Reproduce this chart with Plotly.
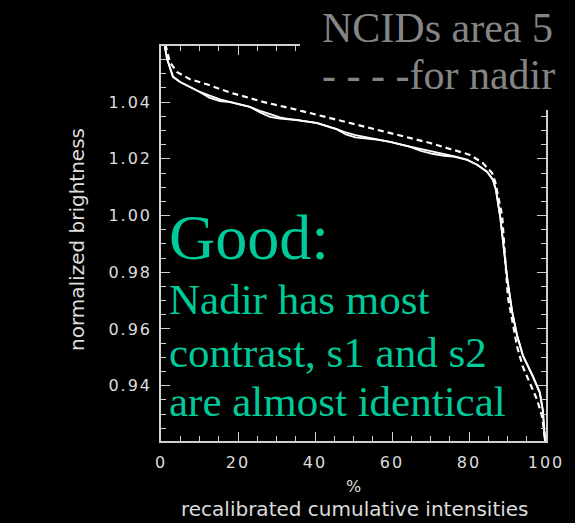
import plotly.graph_objects as go

# Cumulative-intensity curves (percent vs normalized brightness)
pct_s = [0, 1.0, 1.56, 3.1, 4.9, 10.1, 12.5, 15.3, 17.9, 23.1, 26.0, 28.3, 30.9,
         33.0, 35.3, 40.5, 45.7, 48.0, 50.5, 53.5, 56.0, 59.5, 64.7, 67.5, 70.5,
         73.5, 76.0, 79.5, 82.1, 84.7, 86.2, 87.0, 88.1, 89.9, 91.2, 92.5, 94.0,
         96.6, 98.4, 99.2, 99.7, 100]
s1 = [1.0800, 1.0597, 1.0552, 1.0489, 1.0471, 1.0436, 1.0424, 1.0410, 1.0401,
      1.0383, 1.0368, 1.0357, 1.0346, 1.0341, 1.0337, 1.0327, 1.0305, 1.0293,
      1.0284, 1.0276, 1.0269, 1.0260, 1.0243, 1.0235, 1.0226, 1.0218, 1.0210,
      1.0197, 1.0179, 1.0154, 1.0126, 1.0090, 0.9995, 0.9780, 0.9660, 0.9575,
      0.9505, 0.9431, 0.9374, 0.9310, 0.9233, 0.9150]
s2 = [1.0800, 1.0597, 1.0554, 1.0491, 1.0472, 1.0436, 1.0416, 1.0404, 1.0400,
      1.0383, 1.0362, 1.0348, 1.0342, 1.0340, 1.0337, 1.0326, 1.0304, 1.0286,
      1.0276, 1.0271, 1.0268, 1.0260, 1.0242, 1.0228, 1.0218, 1.0211, 1.0208,
      1.0196, 1.0179, 1.0155, 1.0127, 1.0091, 0.9997, 0.9783, 0.9663, 0.9578,
      0.9508, 0.9434, 0.9377, 0.9313, 0.9236, 0.9150]

pct_nadir = [0, 1.2, 2.3, 4.2, 7.5, 11.9, 17.9, 26.5, 35.3, 43.9, 49.1, 54.3,
             59.5, 64.7, 69.9, 75.1, 80.3, 83.6, 86.0, 86.8, 88.6, 90.1, 92.5,
             94.0, 95.8, 97.7, 99.0, 99.7, 100]
nadir = [1.0850, 1.0600, 1.0541, 1.0506, 1.0481, 1.0463, 1.0434, 1.0401, 1.0373,
         1.0344, 1.0325, 1.0309, 1.0291, 1.0274, 1.0256, 1.0235, 1.0214, 1.0185,
         1.0150, 1.0119, 1.0000, 0.9713, 0.9537, 0.9466, 0.9410, 0.9350, 0.9290,
         0.9219, 0.9150]

x_ticks = [0, 20, 40, 60, 80, 100]
y_ticks = [0.94, 0.96, 0.98, 1.00, 1.02, 1.04]

title_lines = ["NCIDs area 5", "- - - -for nadir"]
note_head = "Good:"
note_lines = ["Nadir has most", "contrast, s1 and s2", "are almost identical"]

W, H = 575, 523
L, R, T, B = 161, 546, 46, 441
AX = "#cfcfcf"
LABEL = "#dcdcdc"
GREEN = "#00c99a"
GRAY = "#858585"


def px(x):
    return (x - L) / (R - L)


def py(y):
    return (B - y) / (B - T)


def spaced(s, sp=2):
    return f"<span style='letter-spacing:{sp}px'>{s}</span>"


fig = go.Figure()
fig.add_trace(go.Scatter(x=pct_s, y=s1, mode="lines",
                         line=dict(color="white", width=1.8)))
fig.add_trace(go.Scatter(x=pct_s, y=s2, mode="lines",
                         line=dict(color="white", width=1.8)))
fig.add_trace(go.Scatter(x=pct_nadir, y=nadir, mode="lines",
                         line=dict(color="white", width=2.2, dash="6px,4px")))

axis_font = dict(family="DejaVu Sans", size=16, color=LABEL)
common = dict(showline=True, linecolor=AX, linewidth=1.5, mirror="ticks",
              ticks="inside", ticklen=9, tickwidth=1.2, tickcolor=AX,
              showgrid=False, zeroline=False, tickfont=axis_font)

fig.update_xaxes(range=[0, 100], tickvals=x_ticks,
                 ticktext=[spaced(str(v)) for v in x_ticks],
                 minor=dict(ticks="inside", ticklen=5, dtick=5, tick0=0,
                            tickcolor=AX, showgrid=False),
                 ticklabelstandoff=6, **common)
fig.update_yaxes(range=[0.9205, 1.0598], tickvals=y_ticks,
                 ticktext=[spaced(f"{v:.2f}") for v in y_ticks],
                 minor=dict(ticks="inside", ticklen=5, dtick=0.005, tick0=0,
                            tickcolor=AX, showgrid=False),
                 ticklabelstandoff=4, **common)

# black panel behind the heading text
fig.add_shape(type="rect", xref="paper", yref="paper", layer="above",
              x0=px(300), x1=px(W + 5), y0=py(110), y1=py(-5),
              fillcolor="black", line=dict(width=0))

serif = "Liberation Serif"
ann = []
for text, yc in zip(title_lines, [28, 75]):
    ann.append(dict(text=text, x=px(320), y=py(yc), xanchor="left",
                    yanchor="middle",
                    font=dict(family=serif, size=42, color=GRAY)))
ann.append(dict(text=note_head, x=px(167), y=py(237), xanchor="left",
                yanchor="middle", font=dict(family=serif, size=64, color=GREEN)))
for text, yc in zip(note_lines, [299, 352, 401]):
    ann.append(dict(text=text, x=px(167), y=py(yc), xanchor="left",
                    yanchor="middle", font=dict(family=serif, size=43, color=GREEN)))
sans = dict(family="DejaVu Sans", size=20, color=LABEL)
ann.append(dict(text="normalized brightness", x=px(77), y=py(240), textangle=-90,
                xanchor="center", yanchor="middle", font=sans))
ann.append(dict(text="%", x=px(353), y=py(486), xanchor="center", yanchor="middle",
                font=dict(family="DejaVu Sans", size=16, color=LABEL)))
ann.append(dict(text="recalibrated cumulative intensities", x=px(355), y=py(509),
                xanchor="center", yanchor="middle", font=sans))
for a in ann:
    a.update(xref="paper", yref="paper", showarrow=False)

fig.update_layout(width=W, height=H, paper_bgcolor="black", plot_bgcolor="black",
                  margin=dict(l=L, r=W - R, t=T, b=H - B), showlegend=False,
                  annotations=ann)

fig.write_html("out.html")
